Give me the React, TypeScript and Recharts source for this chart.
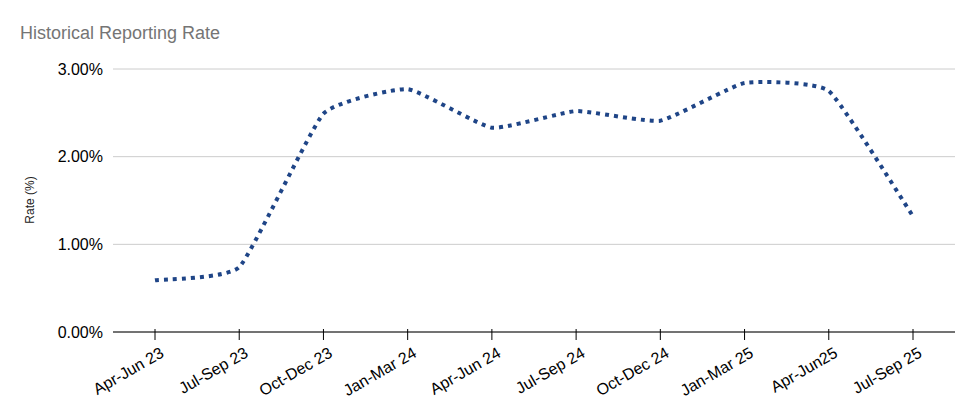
import { CartesianGrid, Line, LineChart, XAxis, YAxis } from 'recharts';

const quarters = [
  'Apr-Jun 23',
  'Jul-Sep 23',
  'Oct-Dec 23',
  'Jan-Mar 24',
  'Apr-Jun 24',
  'Jul-Sep 24',
  'Oct-Dec 24',
  'Jan-Mar 25',
  'Apr-Jun25',
  'Jul-Sep 25',
];
const rates = [0.59, 0.74, 2.49, 2.77, 2.33, 2.52, 2.41, 2.84, 2.75, 1.32];
const yTicks = [0, 1, 2, 3];

const data = quarters.map((quarter, i) => ({ quarter, rate: rates[i] }));

const font = '"Liberation Sans", Arial, sans-serif';

// light smoothing: mostly straight segments with rounded corners at each point
const smoothCurve = (context: any) => {
  let pts: number[][] = [];
  return {
    areaStart() {},
    areaEnd() {},
    lineStart() {
      pts = [];
    },
    point(x: number, y: number) {
      pts.push([+x, +y]);
    },
    lineEnd() {
      if (!pts.length) return;
      context.moveTo(pts[0][0], pts[0][1]);
      for (let i = 0; i < pts.length - 1; i++) {
        const p0 = pts[i - 1] || pts[i];
        const p1 = pts[i];
        const p2 = pts[i + 1];
        const p3 = pts[i + 2] || p2;
        const k = 0.07;
        context.bezierCurveTo(
          p1[0] + (p2[0] - p0[0]) * k,
          p1[1] + (p2[1] - p0[1]) * k,
          p2[0] - (p3[0] - p1[0]) * k,
          p2[1] - (p3[1] - p1[1]) * k,
          p2[0],
          p2[1],
        );
      }
    },
  };
};

const QuarterTick = ({ x, y, payload }: any) => (
  <g>
    <line x1={x} x2={x} y1={y - 5} y2={y + 6} stroke="#000" />
    <text
      x={x + 10}
      y={y + 22}
      textAnchor="end"
      fontSize={16}
      fontFamily={font}
      fill="#000"
      transform={`rotate(-30 ${x + 10} ${y + 22})`}
    >
      {payload.value}
    </text>
  </g>
);

const App = () => {
  return (
    <div style={{ position: 'absolute', left: 0, top: 0, width: 976, height: 417, background: '#fff' }}>
      <div
        style={{
          position: 'absolute',
          left: 20,
          top: 23,
          fontFamily: font,
          fontSize: 18,
          color: '#757575',
        }}
      >
        Historical Reporting Rate
      </div>
      <div
        style={{
          position: 'absolute',
          left: 30,
          top: 200,
          transform: 'translate(-50%, -50%) rotate(-90deg)',
          fontFamily: font,
          fontSize: 12,
          color: '#222',
          whiteSpace: 'nowrap',
        }}
      >
        Rate (%)
      </div>
      <LineChart
        width={976}
        height={417}
        data={data}
        margin={{ top: 69, right: 21, left: 0, bottom: 0 }}
      >
        <CartesianGrid vertical={false} stroke="#cccccc" />
        <XAxis
          dataKey="quarter"
          interval={0}
          height={85}
          padding={{ left: 42, right: 42 }}
          tickLine={false}
          tickSize={0}
          axisLine={{ stroke: '#000' }}
          tick={<QuarterTick />}
        />
        <YAxis
          width={113}
          domain={[0, 3]}
          ticks={yTicks}
          axisLine={false}
          tickLine={false}
          tickMargin={4}
          tickFormatter={(v: number) => `${v.toFixed(2)}%`}
          tick={{ fontSize: 16, fontFamily: font, fill: '#000' }}
        />
        <Line
          type={smoothCurve as any}
          dataKey="rate"
          stroke="#1f4587"
          strokeWidth={4}
          strokeDasharray="4 5"
          dot={false}
          activeDot={false}
          isAnimationActive={false}
        />
      </LineChart>
    </div>
  );
};

export default App;
